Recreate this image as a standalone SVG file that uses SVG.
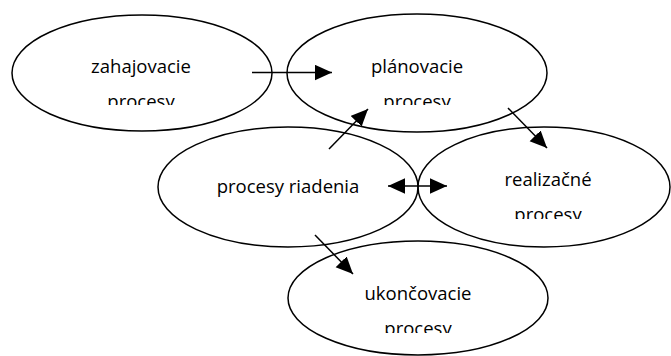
<svg xmlns="http://www.w3.org/2000/svg" width="671" height="356" viewBox="0 0 671 356">
  <style>
    .node { fill: none; stroke: #000; stroke-width: 1.5; }
    .lbl { font-family: "Open Sans", "Liberation Sans", sans-serif; font-size: 18.5px; fill: #000; text-anchor: middle; }
    .edge { stroke: #000; stroke-width: 1.5; fill: none; }
  </style>
  <defs>
    <marker id="arrow" markerUnits="userSpaceOnUse" markerWidth="17" markerHeight="16" refX="17" refY="7.7" orient="auto-start-reverse">
      <path d="M0,0 L17,7.7 L0,15.4 z" fill="#000"/>
    </marker>
    <!-- text boxes cut their second line off at the box bottom -->
    <clipPath id="clip-zah"><rect x="60" y="50" width="170" height="55"/></clipPath>
    <clipPath id="clip-plan"><rect x="335" y="50" width="170" height="55"/></clipPath>
    <clipPath id="clip-real"><rect x="465" y="163" width="170" height="56"/></clipPath>
    <clipPath id="clip-ukon"><rect x="335" y="277" width="170" height="56"/></clipPath>
  </defs>

  <g id="zahajovacie">
    <ellipse class="node" cx="142" cy="73" rx="130" ry="58"/>
    <g clip-path="url(#clip-zah)">
      <text class="lbl" x="141" y="73">zahajovacie</text>
      <text class="lbl" x="141" y="108">procesy</text>
    </g>
  </g>

  <g id="planovacie">
    <ellipse class="node" cx="417" cy="73" rx="130" ry="59"/>
    <g clip-path="url(#clip-plan)">
      <text class="lbl" x="417" y="73">plánovacie</text>
      <text class="lbl" x="417" y="108">procesy</text>
    </g>
  </g>

  <g id="riadenia">
    <ellipse class="node" cx="288" cy="187" rx="130" ry="60"/>
    <text class="lbl" x="288" y="193">procesy riadenia</text>
  </g>

  <g id="realizacne">
    <ellipse class="node" cx="544" cy="187" rx="126" ry="60"/>
    <g clip-path="url(#clip-real)">
      <text class="lbl" x="548" y="186">realizačné</text>
      <text class="lbl" x="548" y="221">procesy</text>
    </g>
  </g>

  <g id="ukoncovacie">
    <ellipse class="node" cx="418" cy="298" rx="130" ry="57"/>
    <g clip-path="url(#clip-ukon)">
      <text class="lbl" x="418" y="300">ukončovacie</text>
      <text class="lbl" x="418" y="335">procesy</text>
    </g>
  </g>

  <g id="connectors">
    <line class="edge" x1="252" y1="72.5" x2="332" y2="72.5" marker-end="url(#arrow)"/>
    <line class="edge" x1="329" y1="149" x2="368" y2="109" marker-end="url(#arrow)"/>
    <line class="edge" x1="508" y1="108" x2="547" y2="148" marker-end="url(#arrow)"/>
    <line class="edge" x1="388" y1="186" x2="447" y2="186" marker-start="url(#arrow)" marker-end="url(#arrow)"/>
    <line class="edge" x1="315" y1="235" x2="353" y2="274" marker-end="url(#arrow)"/>
  </g>
</svg>
